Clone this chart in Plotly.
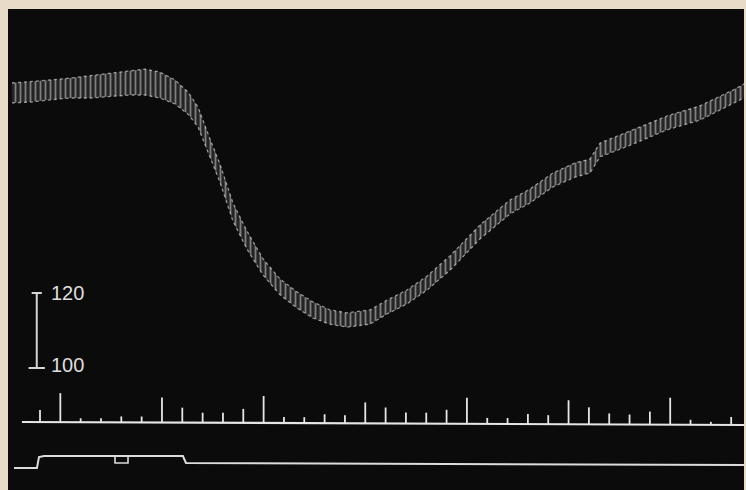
import plotly.graph_objects as go

# ---- Blood pressure trace (time in s, pressure in mmHg) ----
bp_time = [-1.38, -0.49, 0.49, 1.48, 2.46, 3.44, 4.43, 5.16, 5.90, 6.64, 7.28, 7.77,
           8.36, 8.85, 9.49, 10.18, 10.97, 11.81, 12.64, 13.43, 14.26, 15.10, 16.23,
           17.07, 18.05, 19.04, 20.17, 21.64, 23.12, 24.10, 25.23, 26.32, 27.05, 27.55,
           29.17, 30.84, 32.46, 34.09, 34.73]
bp_systolic = [176.0, 176.3, 176.8, 177.3, 177.9, 178.7, 179.2, 179.7, 178.9, 176.8, 173.6, 169.6,
               161.1, 154.4, 144.0, 136.5, 129.1, 123.7, 120.3, 117.6, 115.5, 114.7, 115.5,
               118.1, 120.8, 124.5, 129.9, 138.1, 144.8, 147.7, 152.0, 154.7, 155.7, 160.0,
               163.5, 167.2, 169.9, 174.1, 176.0]
bp_diastolic = [170.7, 170.9, 171.5, 172.0, 172.0, 172.3, 172.8, 172.8, 172.0, 170.4, 167.7, 164.3,
                156.3, 149.6, 139.2, 131.7, 124.8, 119.5, 116.0, 113.3, 111.7, 110.9, 111.7,
                114.4, 117.1, 120.8, 126.1, 134.4, 141.1, 144.0, 148.3, 150.9, 152.0, 156.3,
                159.7, 163.5, 166.1, 170.4, 172.3]

# ---- Calibration scale (mmHg) ----
scale_values = [100, 120]
scale_labels = ["100", "120"]

# ---- Time marker (one mark per second) ----
tick_time = list(range(0, 35))
tick_height = [12, 29, 4, 4, 6, 6, 25, 15, 10, 10, 14, 27, 6, 6, 9, 8, 21, 16, 11, 11,
               14, 26, 6, 6, 10, 9, 24, 17, 11, 10, 13, 27, 5, 3, 8]
marker_start, marker_end = -0.89, 34.73
marker_base = [68, 65]

# ---- Signal line (stimulus) ----
signal_time = [-1.28, -0.15, -0.05, 0.2, 7.03, 7.18, 34.73]
signal_level = [22, 22, 33, 34, 34, 27, 25]
notch_time = [3.69, 4.33]
notch_level = [27, 32]

TRACE = "#d6d6d6"
fig = go.Figure()

fig.add_trace(go.Scatter(x=bp_time, y=bp_diastolic, mode="lines",
                         line=dict(color="rgba(215,215,215,0.65)", width=1.3, dash="dot"),
                         showlegend=False, hoverinfo="skip"))
fig.add_trace(go.Scatter(x=bp_time, y=bp_systolic, mode="lines", fill="tonexty",
                         fillcolor="rgba(130,130,130,0.25)",
                         fillpattern=dict(shape="|", fgcolor="#dadada",
                                          bgcolor="rgba(110,110,110,0.25)", size=5, solidity=0.35),
                         line=dict(color="rgba(215,215,215,0.65)", width=1.3, dash="dot"),
                         showlegend=False, hoverinfo="skip"))

# calibration bar
bar_t = -0.16
fig.add_trace(go.Scatter(x=[bar_t, bar_t], y=scale_values, mode="lines",
                         line=dict(color=TRACE, width=2), showlegend=False, hoverinfo="skip"))
fig.add_trace(go.Scatter(x=[bar_t - 0.4, bar_t + 0.4, None, bar_t - 0.25, bar_t + 0.25],
                         y=[scale_values[0], scale_values[0], None, scale_values[1], scale_values[1]],
                         mode="lines", line=dict(color=TRACE, width=2),
                         showlegend=False, hoverinfo="skip"))
for v, lab in zip(scale_values, scale_labels):
    fig.add_annotation(x=0.45, y=v + (0.8 if v == 100 else 0), text=lab, showarrow=False,
                       xanchor="left", yanchor="middle",
                       font=dict(family="Liberation Sans", size=20, color="#dedede"))

# time marker
fig.add_trace(go.Scatter(x=[marker_start, marker_end], y=marker_base, yaxis="y2", mode="lines",
                         line=dict(color="#e6e6e6", width=2.2), showlegend=False, hoverinfo="skip"))
sx, sy = [], []
for t, h in zip(tick_time, tick_height):
    b = marker_base[0] + (marker_base[1] - marker_base[0]) * (t - marker_start) / (marker_end - marker_start)
    sx += [t, t, None]
    sy += [b, b + h, None]
fig.add_trace(go.Scatter(x=sx, y=sy, yaxis="y2", mode="lines",
                         line=dict(color="#e6e6e6", width=1.8), showlegend=False, hoverinfo="skip"))

# signal
fig.add_trace(go.Scatter(x=signal_time, y=signal_level, yaxis="y2", mode="lines",
                         line=dict(color="#dcdcdc", width=2), showlegend=False, hoverinfo="skip"))
n0, n1 = notch_time
l0, l1 = notch_level
fig.add_trace(go.Scatter(x=[n0, n0, n1, n1], y=[l1 + 2, l0, l0, l1 + 2], yaxis="y2", mode="lines",
                         line=dict(color="#dcdcdc", width=1.6), showlegend=False, hoverinfo="skip"))

fig.update_layout(
    width=746, height=490, autosize=False,
    margin=dict(l=8, r=2, t=9, b=0),
    paper_bgcolor="#e8dcc8", plot_bgcolor="#0b0b0b",
    xaxis=dict(range=[-1.574, 34.63], visible=False),
    yaxis=dict(range=[67.47, 195.73], visible=False),
    yaxis2=dict(range=[0, 481], overlaying="y", visible=False),
)

fig.write_html("out.html", config={"displayModeBar": False},
               post_script="document.body.style.margin='0';")
